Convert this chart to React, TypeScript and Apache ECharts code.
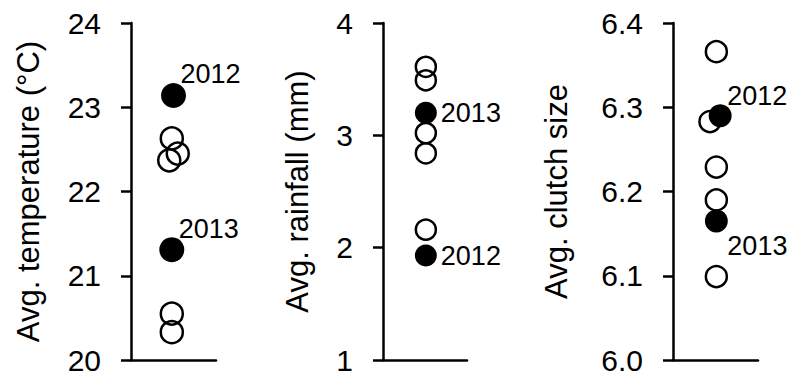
import React, { useEffect, useRef } from "react";
import * as echarts from "echarts";

// Panel 1: temperature
const tempYears = ["2012", "2013"];
const tempFilled = [23.14, 21.31];
const tempFilledX = [0.5, 0.48];
const tempOpen = [22.63, 22.45, 22.37, 20.55, 20.33];
const tempOpenX = [0.48, 0.55, 0.45, 0.48, 0.48];
const tempTicks = { min: 20, max: 24, interval: 1 };

// Panel 2: rainfall
const rainYears = ["2012", "2013"];
const rainFilled = [1.93, 3.2];
const rainFilledX = [0.51, 0.51];
const rainOpen = [3.61, 3.49, 3.02, 2.84, 2.16];
const rainOpenX = [0.51, 0.51, 0.51, 0.51, 0.51];
const rainTicks = { min: 1, max: 4, interval: 1 };

// Panel 3: clutch size
const clutchYears = ["2012", "2013"];
const clutchFilled = [6.29, 6.165];
const clutchFilledX = [0.555, 0.51];
const clutchOpen = [6.366, 6.283, 6.229, 6.19, 6.099];
const clutchOpenX = [0.51, 0.435, 0.51, 0.51, 0.51];
const clutchTicks = { min: 6.0, max: 6.4, interval: 0.1 };

const titles = ["Avg. temperature (°C)", "Avg. rainfall (mm)", "Avg. clutch size"];

const FONT = "'Liberation Sans', Arial, sans-serif";
const INK = "#000";

export default function App() {
  const ref = useRef<HTMLDivElement>(null);
  useEffect(() => {
    if (!ref.current) return;
    const chart = echarts.init(ref.current, null, { renderer: "svg" });

    const grids = [
      { left: 131, top: 23, width: 85, height: 337 },
      { left: 383, top: 23, width: 84, height: 337 },
      { left: 673, top: 23, width: 85, height: 337 },
    ];
    const ticks = [tempTicks, rainTicks, clutchTicks];
    const gaps = [87, 70, 101];
    const decimals = [0, 0, 1];

    const xAxis = grids.map((_, i) => ({
      type: "value",
      gridIndex: i,
      min: 0,
      max: 1,
      axisLine: { show: true, lineStyle: { color: INK, width: 2.5 } },
      axisTick: { show: false },
      axisLabel: { show: false },
      splitLine: { show: false },
    }));
    const yAxis = grids.map((_, i) => ({
      type: "value",
      gridIndex: i,
      min: ticks[i].min,
      max: ticks[i].max,
      interval: ticks[i].interval,
      name: titles[i],
      nameLocation: "middle",
      nameGap: gaps[i],
      nameTextStyle: { fontFamily: FONT, fontSize: 31, color: INK },
      axisLine: { show: true, lineStyle: { color: INK, width: 2.5 } },
      axisTick: { show: true, inside: false, length: 10, lineStyle: { color: INK, width: 2.5 } },
      axisLabel: {
        fontFamily: FONT,
        fontSize: 30,
        color: INK,
        margin: 30,
        formatter: (v: number) => v.toFixed(decimals[i]),
      },
      splitLine: { show: false },
    }));

    const openSeries = (i: number, xs: number[], ys: number[], size: number) => ({
      type: "scatter",
      xAxisIndex: i,
      yAxisIndex: i,
      symbol: "circle",
      symbolSize: size,
      itemStyle: { color: "rgba(0,0,0,0)", borderColor: INK, borderWidth: 2.5, opacity: 1 },
      data: ys.map((y, k) => [xs[k], y]),
      z: 2,
    });

    const filledSeries = (
      i: number,
      xs: number[],
      ys: number[],
      names: string[],
      size: number,
      labels: any[]
    ) => ({
      type: "scatter",
      xAxisIndex: i,
      yAxisIndex: i,
      symbol: "circle",
      symbolSize: size,
      itemStyle: { color: INK, borderWidth: 0, opacity: 1 },
      data: ys.map((y, k) => ({
        value: [xs[k], y],
        name: names[k],
        label: { show: true, formatter: names[k], fontFamily: FONT, fontSize: 27, color: INK, ...labels[k] },
      })),
      z: 3,
    });

    const topRight = (s: number) => ({ position: [s / 2 + 7, 5], align: "left", verticalAlign: "bottom" });
    const bottomRight = (s: number) => ({ position: [s / 2 + 11, s / 2 + 12], align: "left", verticalAlign: "top" });
    const right = { position: "right", distance: 4 };

    chart.setOption({
      animation: false,
      grid: grids,
      xAxis,
      yAxis,
      series: [
        openSeries(0, tempOpenX, tempOpen, 22),
        filledSeries(0, tempFilledX, tempFilled, tempYears, 25, [topRight(25), topRight(25)]),
        openSeries(1, rainOpenX, rainOpen, 20),
        filledSeries(1, rainFilledX, rainFilled, rainYears, 22, [right, right]),
        openSeries(2, clutchOpenX, clutchOpen, 21),
        filledSeries(2, clutchFilledX, clutchFilled, clutchYears, 23, [topRight(23), bottomRight(23)]),
      ],
    });
    return () => chart.dispose();
  }, []);

  return (
    <div
      ref={ref}
      style={{ position: "fixed", left: 0, top: 0, width: 794, height: 380, background: "#fff" }}
    />
  );
}
